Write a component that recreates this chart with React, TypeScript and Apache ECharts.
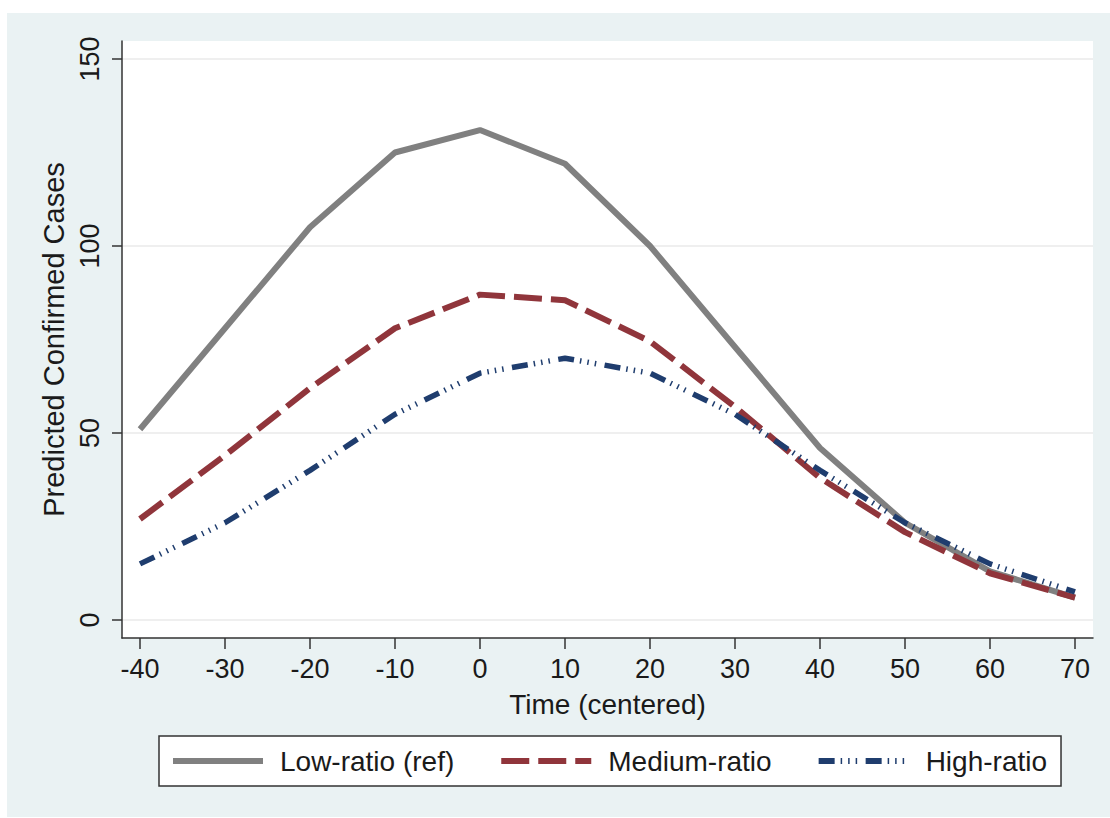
import React, { useEffect, useRef } from "react";
import * as echarts from "echarts";

const timeValues = [-40, -30, -20, -10, 0, 10, 20, 30, 40, 50, 60, 70];
const lowRatio = [51, 78, 105, 125, 131, 122, 100, 73, 46, 26, 13, 6];
const mediumRatio = [27, 44, 62, 78, 87, 85.5, 74.5, 57, 38, 23.5, 12.5, 6];
const highRatio = [15, 26, 40, 55, 66, 70, 66, 55, 40, 26, 15, 7.5];
const xTicks = [-40, -30, -20, -10, 0, 10, 20, 30, 40, 50, 60, 70];
const yTicks = [0, 50, 100, 150];
const seriesNames = ["Low-ratio (ref)", "Medium-ratio", "High-ratio"];

const FONT = "Liberation Sans, Arial, sans-serif";

function pairs(vals: number[]) {
  return timeValues.map((t, i) => [t, vals[i]]);
}

export default function App() {
  const ref = useRef<HTMLDivElement>(null);
  useEffect(() => {
    if (!ref.current) return;
    const chart = echarts.init(ref.current, null, { renderer: "svg" });
    chart.setOption({
      animation: false,
      textStyle: { fontFamily: FONT },
      grid: {
        left: 122,
        right: 17,
        top: 41,
        bottom: 180,
        show: true,
        backgroundColor: "#ffffff",
        borderWidth: 0,
      },
      xAxis: {
        type: "value",
        min: -42.118,
        max: 72.118,
        name: "Time (centered)",
        nameLocation: "middle",
        nameGap: 52,
        nameTextStyle: { fontSize: 28, color: "#1a1a1a", fontFamily: FONT },
        axisLine: { onZero: false, lineStyle: { color: "#333333", width: 1.5 } },
        axisTick: { customValues: xTicks, length: 11, lineStyle: { color: "#333333", width: 1.5 } },
        axisLabel: { customValues: xTicks, fontSize: 27, color: "#1a1a1a", margin: 17, fontFamily: FONT },
        splitLine: { show: false },
      },
      yAxis: {
        type: "value",
        min: -4.813,
        max: 154.813,
        name: "Predicted Confirmed Cases",
        nameLocation: "middle",
        nameGap: 54,
        nameRotate: 90,
        nameTextStyle: { fontSize: 29, color: "#1a1a1a", fontFamily: FONT, padding: [0, 0, 0, 0] },
        axisLine: { onZero: false, lineStyle: { color: "#333333", width: 1.5 } },
        axisTick: { customValues: yTicks, length: 10, lineStyle: { color: "#333333", width: 1.5 } },
        axisLabel: { customValues: yTicks, rotate: 90, fontSize: 27, color: "#1a1a1a", margin: 19, fontFamily: FONT },
        splitLine: { show: true, lineStyle: { color: "#eaeaea", width: 1.5 } },
      },
      legend: {
        left: 159,
        top: 736,
        orient: "horizontal",
        data: seriesNames,
        itemWidth: 90,
        itemHeight: 28,
        itemGap: 44,
        padding: [11, 14, 11, 11],
        backgroundColor: "#ffffff",
        borderColor: "#333333",
        borderWidth: 1.5,
        borderRadius: 0,
        itemStyle: { opacity: 0, borderWidth: 0 },
        lineStyle: { width: 6 },
        textStyle: { fontSize: 28, color: "#1a1a1a", fontFamily: FONT, padding: [0, 0, 0, 12] },
      },
      series: [
        {
          name: seriesNames[0],
          type: "line",
          data: pairs(lowRatio),
          symbol: "none",
          color: "#808080",
          lineStyle: { color: "#808080", width: 6, type: "solid" },
        },
        {
          name: seriesNames[1],
          type: "line",
          data: pairs(mediumRatio),
          symbol: "none",
          color: "#90353b",
          lineStyle: { color: "#90353b", width: 6, type: [28, 9] },
        },
        {
          name: seriesNames[2],
          type: "line",
          data: pairs(highRatio),
          symbol: "none",
          color: "#1f3d6e",
          lineStyle: { color: "#1f3d6e", width: 5.5, type: [16, 6, 1.5, 6, 1.5, 6, 1.5, 8.5] },
        },
      ],
    });
    return () => chart.dispose();
  }, []);

  return (
    <div style={{ position: "fixed", left: 0, top: 0, width: 1110, height: 818, background: "#ffffff" }}>
      <div style={{ position: "absolute", left: 7, top: 13, width: 1103, height: 804, background: "#eaf2f3" }} />
      <div ref={ref} style={{ position: "absolute", left: 0, top: 0, width: 1110, height: 818 }} />
    </div>
  );
}
